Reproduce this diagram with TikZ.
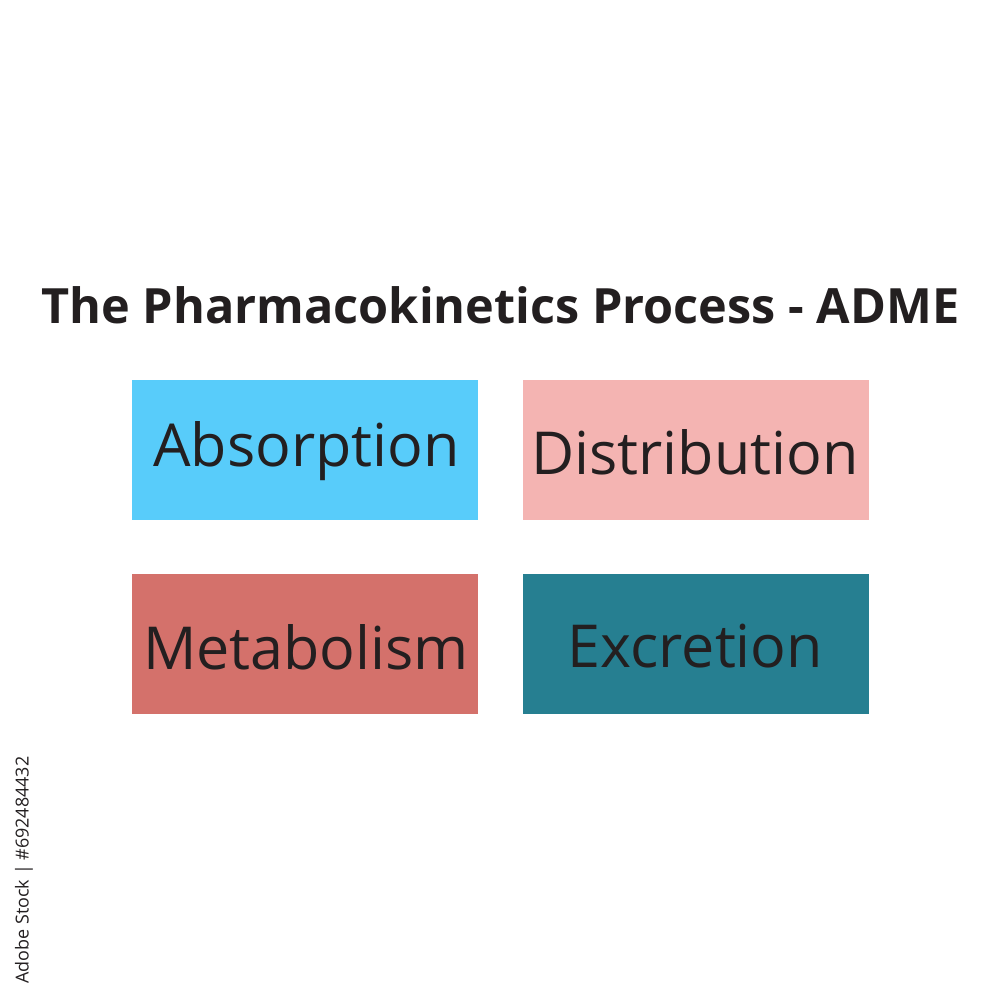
\documentclass[tikz,border=0pt]{standalone}
\usepackage{fontspec}
\setmainfont{Open Sans}
\usetikzlibrary{positioning}
\definecolor{absorbblue}{RGB}{88,204,250}
\definecolor{distpink}{RGB}{244,180,178}
\definecolor{metabred}{RGB}{212,113,107}
\definecolor{excrteal}{RGB}{38,127,145}
\definecolor{inkgrey}{RGB}{35,31,32}
\tikzset{
  stagebox/.style={minimum width=3.46cm,minimum height=1.4cm,inner sep=0pt},
  stagetext/.style={inner sep=0pt,anchor=base,text=inkgrey,font=\fontsize{16.85}{20}\selectfont},
}
\begin{document}
\begin{tikzpicture}[x=1cm,y=1cm]
    \useasboundingbox (0,0) rectangle (10,10);
    \fill[white] (0,0) rectangle (10,10);
    \node[text=inkgrey,font=\bfseries\fontsize{13.83}{18}\selectfont](title) at (5.005,6.945) {The Pharmacokinetics Process - ADME};
    \node[stagebox,fill=absorbblue](absorption) at (3.05,5.5) {};
    \node[stagebox,fill=distpink,right=0.435cm of absorption](distribution) {};
    \node[stagebox,fill=metabred,below=0.53cm of absorption](metabolism) {};
    \node[stagebox,fill=excrteal,below=0.53cm of distribution](excretion) {};
    \node[stagetext](absorptionlabel) at (3.065,5.33) {Absorption};
    \node[stagetext](distributionlabel) at (6.95,5.25) {Distribution};
    \node[stagetext](metabolismlabel) at (3.06,3.30) {Metabolism};
    \node[stagetext](excretionlabel) at (6.955,3.32) {Excretion};
    \node[rotate=90,text=inkgrey,font=\fontsize{5.1}{6}\selectfont](stockid) at (0.24,1.30) {Adobe Stock | \#692484432};
\end{tikzpicture}
\end{document}
